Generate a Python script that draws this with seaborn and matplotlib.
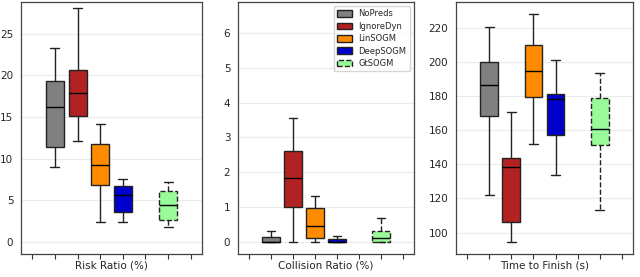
import numpy as np
import pandas as pd
import seaborn as sns
import matplotlib
matplotlib.use("Agg")
import matplotlib.pyplot as plt

# Metodos y posicion en el eje x (la ranura 5 queda vacia)
methods = ["NoPreds", "IgnoreDyn", "LinSOGM", "DeepSOGM", "GtSOGM"]
slots = [1, 2, 3, 4, 6]
colors = ["#808080", "#B22222", "#FF8C00", "#0000CD", "#98FB98"]

# Resumen de cinco numeros: min, q1, mediana, q3, max
risk = [
    [9.0, 11.4, 16.2, 19.3, 23.3],
    [12.1, 15.1, 17.9, 20.6, 28.1],
    [2.4, 6.8, 9.2, 11.8, 14.2],
    [2.4, 3.6, 5.7, 6.7, 7.6],
    [1.8, 2.6, 4.4, 6.1, 7.2],
]
collision = [
    [0.0, 0.0, 0.01, 0.15, 0.32],
    [0.0, 1.02, 1.84, 2.62, 3.55],
    [0.0, 0.12, 0.45, 0.98, 1.31],
    [0.0, 0.0, 0.0, 0.08, 0.19],
    [0.0, 0.0, 0.12, 0.32, 0.69],
]
finish = [
    [121.8, 168.1, 186.5, 200.0, 220.6],
    [94.2, 106.0, 138.3, 143.6, 170.8],
    [152.1, 179.7, 194.9, 210.1, 228.4],
    [134.0, 157.0, 178.2, 181.5, 201.1],
    [113.4, 151.5, 160.7, 178.8, 193.7],
]

metric_names = ["Risk Ratio (%)", "Collision Ratio (%)", "Time to Finish (s)"]
metric_values = [risk, collision, finish]
ylims = [(-1.44, 28.8), (-0.34, 6.88), (87.4, 235.2)]
yticks = [[0, 5, 10, 15, 20, 25], [0, 1, 2, 3, 4, 5, 6],
          [100, 120, 140, 160, 180, 200, 220]]

# Tabla larga para seaborn
rows = []
for name, vals in zip(metric_names, metric_values):
    for m, s, v in zip(methods, slots, vals):
        for x in v:
            rows.append({"metric": name, "method": m, "slot": s, "value": x})
df = pd.DataFrame(rows)

sns.set_style("whitegrid")
plt.rcParams["font.family"] = ["DejaVu Sans"]

fig = plt.figure(figsize=(6.4, 2.77), dpi=100)
W, H = 640, 277
boxes = [(21, 202), (238, 414), (456, 633)]
top, bottom = 2, 254

for i, name in enumerate(metric_names):
    l, r = boxes[i]
    ax = fig.add_axes([l / W, 1 - bottom / H, (r - l) / W, (bottom - top) / H])
    sub = df[df["metric"] == name]
    sns.boxplot(
        data=sub, x="slot", y="value", hue="method",
        hue_order=methods, palette=colors, saturation=1, native_scale=True,
        dodge=False, whis=(0, 100), width=0.8, linewidth=1.0,
        linecolor="#222222", legend=(i == 1), ax=ax,
        medianprops={"color": "black"},
    )
    # GtSOGM con borde y bigotes discontinuos
    for p in ax.patches:
        ext = p.get_path().get_extents()
        if ext.x0 > 5.5:
            p.set_linestyle("--")
    for ln in ax.lines:
        xd = np.asarray(ln.get_xdata(), dtype=float)
        if len(xd) and xd.mean() > 5.5 and np.ptp(xd) < 1e-9:
            ln.set_linestyle("--")

    ax.set_xlim(-0.5, 7.5)
    ax.set_xticks(range(8))
    ax.set_xticklabels([""] * 8)
    ax.set_ylim(*ylims[i])
    ax.set_yticks(yticks[i])
    ax.set_xlabel(name, fontsize=7.5, labelpad=0)
    ax.set_ylabel("")
    ax.grid(axis="x", visible=False)
    ax.grid(axis="y", color="#ebebeb", linewidth=0.8)
    ax.tick_params(axis="x", bottom=True, length=3.5, width=0.8,
                   color="#333333", pad=1)
    ax.tick_params(axis="y", left=False, labelsize=7.5, pad=2)
    for sp in ax.spines.values():
        sp.set_color("#444444")
        sp.set_linewidth(0.9)

    if i == 1:
        leg = ax.legend(loc="upper right", fontsize=6, frameon=True,
                        handlelength=1.8, handleheight=0.9,
                        borderpad=0.4, labelspacing=0.4)
        leg.get_frame().set_edgecolor("#cccccc")
        leg.legend_handles[-1].set_linestyle("--")

fig.savefig("out.png", dpi=100)
